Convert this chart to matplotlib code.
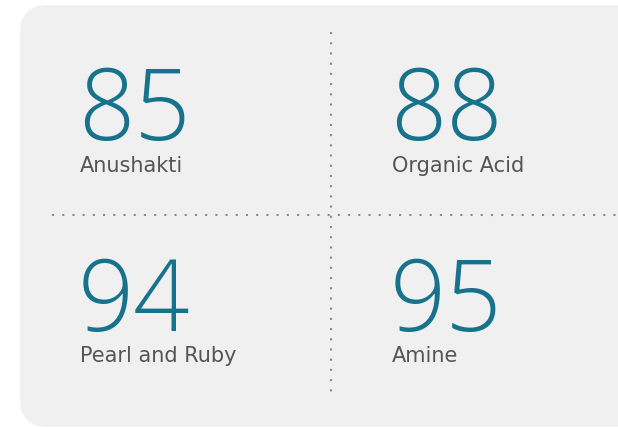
import matplotlib
matplotlib.use("Agg")
import matplotlib.pyplot as plt
from matplotlib.patches import FancyBboxPatch

# KPI values and their labels, in reading order (left→right, top→bottom)
values = [85, 88, 94, 95]
labels = ["Anushakti", "Organic Acid", "Pearl and Ruby", "Amine"]

num_color = "#17728c"
label_color = "#555555"
panel_color = "#f0f0f0"

fig = plt.figure(figsize=(6.18, 4.28), dpi=100)
ax = fig.add_axes([0, 0, 1, 1])
ax.set_xlim(0, 618)
ax.set_ylim(428, 0)
ax.axis("off")

# rounded panel (runs off the right edge)
panel = FancyBboxPatch((20, 5), 640, 422, boxstyle="round,pad=0,rounding_size=28",
                       facecolor=panel_color, edgecolor="none")
ax.add_patch(panel)

# dotted dividers
ax.plot([331, 331], [32, 392], color="#8a8a8a", lw=1.5, linestyle=(0, (1, 3.9)))
ax.plot([52, 618], [215, 215], color="#8a8a8a", lw=1.5, linestyle=(0, (1, 3.9)))

# tile anchors (left x, baseline of value, baseline of label)
xs = [80, 392, 80, 392]
num_base = [140, 140, 331, 331]
lab_base = [172, 172, 362, 362]

for v, lab, x, yb, yl in zip(values, labels, xs, num_base, lab_base):
    ax.text(x - 2, yb, str(v), fontsize=71, color=num_color, family="Open Sans",
            fontweight="light", ha="left", va="baseline")
    ax.text(x, yl, lab, fontsize=15, color=label_color, family="DejaVu Sans",
            ha="left", va="baseline")

fig.savefig("out.png", dpi=100)
